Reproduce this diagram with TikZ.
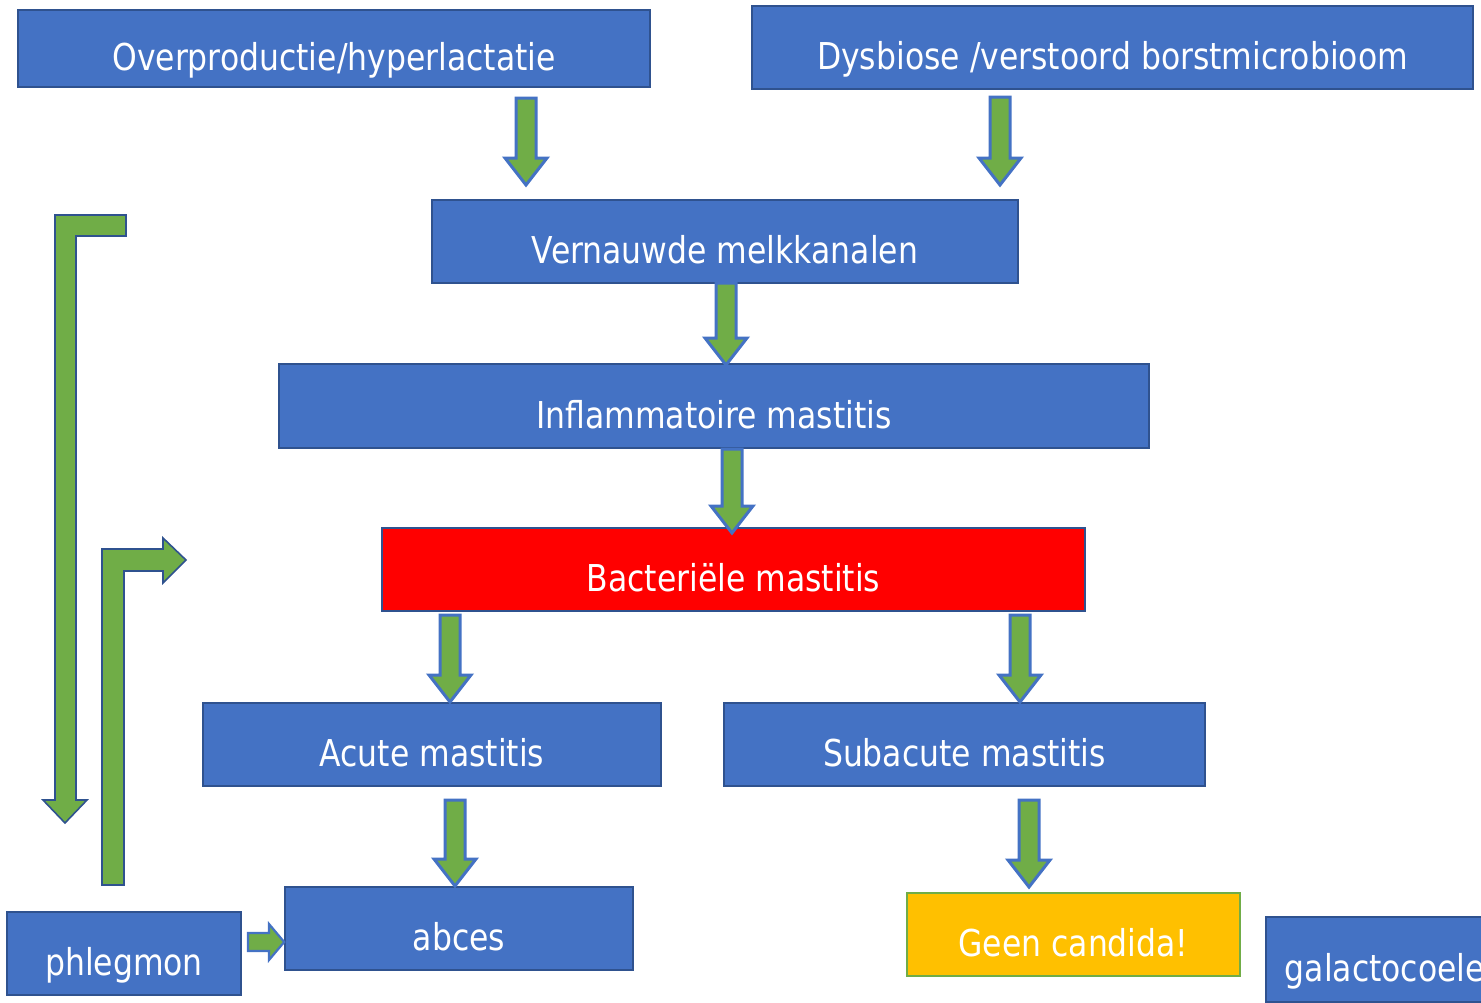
\documentclass[tikz,border=0pt]{standalone}
\usepackage{fontspec}
\setmainfont[FakeStretch=0.85]{DejaVu Sans}
\usepackage{xcolor}
\usepackage{tikz}
\usetikzlibrary{calc}
\definecolor{BoxBlue}{RGB}{68, 114, 196}
\definecolor{BoxEdge}{RGB}{47, 82, 143}
\definecolor{ArrowGreen}{RGB}{112, 173, 71}
\definecolor{AlarmRed}{RGB}{255, 0, 0}
\definecolor{WarnYellow}{RGB}{255, 192, 0}

\tikzset{
  stagebox/.style={
    draw=BoxEdge,
    fill=BoxBlue,
    line width=1.6pt,
    text=white,
    inner sep=0pt,
    text height=44pt,
    text depth=0pt,
    font=\fontsize{37}{43}\selectfont
  },
  blockarrow/.style={fill=ArrowGreen, draw=BoxBlue, line width=3pt, line join=miter},
  bentarrow/.style={fill=ArrowGreen, draw=BoxEdge, line width=1.6pt, line join=miter}
}

% green block arrow pointing down: x-centre, top, tip
\newcommand{\greendown}[3]{%
  \draw[blockarrow] ({#1-10},#2) -- ({#1+10},#2) -- ({#1+10},{#3-27})
    -- ({#1+21},{#3-27}) -- (#1,#3) -- ({#1-21},{#3-27}) -- ({#1-10},{#3-27}) -- cycle;}

\begin{document}
\begin{tikzpicture}[x=1pt, y=-1pt]
  \useasboundingbox (0,0) rectangle (1481,1002);

  % causes
  \node[stagebox, minimum width=632pt, minimum height=77pt] (over) at (334,48.5) {Overproductie/hyperlactatie};
  \node[stagebox, minimum width=721pt, minimum height=83pt] (dysb) at (1112.5,47.5) {Dysbiose /verstoord borstmicrobioom};

  % main chain
  \node[stagebox, minimum width=586pt, minimum height=83pt] (vern) at (725,241.5) {Vernauwde melkkanalen};
  \node[stagebox, minimum width=870pt, minimum height=84pt] (infl) at (714,406) {Inflammatoire mastitis};
  \node[stagebox, fill=AlarmRed, minimum width=703pt, minimum height=83pt] (bact) at (733.5,569.5) {Bacteriële mastitis};
  \node[stagebox, minimum width=458pt, minimum height=83pt] (acute) at (432,744.5) {Acute mastitis};
  \node[stagebox, minimum width=481pt, minimum height=83pt] (subac) at (964.5,744.5) {Subacute mastitis};

  % outcomes
  \node[stagebox, minimum width=348pt, minimum height=83pt] (abces) at (459,928.5) {abces};
  \node[stagebox, fill=WarnYellow, draw=ArrowGreen, minimum width=333pt, minimum height=83pt] (cand) at (1073.5,934.5) {Geen candida!};
  \node[stagebox, minimum width=234pt, minimum height=83pt] (phleg) at (124,953.5) {phlegmon};
  \node[stagebox, minimum width=240pt, minimum height=85pt, anchor=west] (galac) at (1265,959.5) {\hspace*{12pt}galactocoele\hspace*{14pt}};

  % downward arrows
  \greendown{526}{98}{185}
  \greendown{1000}{97}{185}
  \greendown{726}{283}{365}
  \greendown{732}{449}{533}
  \greendown{450}{615}{702}
  \greendown{1020}{615}{702}
  \greendown{455}{800}{886}
  \greendown{1029}{800}{887}

  % bent arrows on the left
  \draw[bentarrow] (55,215) -- (126,215) -- (126,236) -- (76,236) -- (76,800)
    -- (87,800) -- (65,823) -- (43,800) -- (55,800) -- cycle;
  \draw[bentarrow] (102,885) -- (102,549) -- (163,549) -- (163,538) -- (186,560)
    -- (163,583) -- (163,571) -- (124,571) -- (124,885) -- cycle;

  % phlegmon to abces
  \draw[blockarrow, line width=2.2pt] (248,933) -- (269,933) -- (269,924)
    -- (abces.west |- 0,942) -- (269,960) -- (269,951) -- (248,951) -- cycle;
\end{tikzpicture}
\end{document}
